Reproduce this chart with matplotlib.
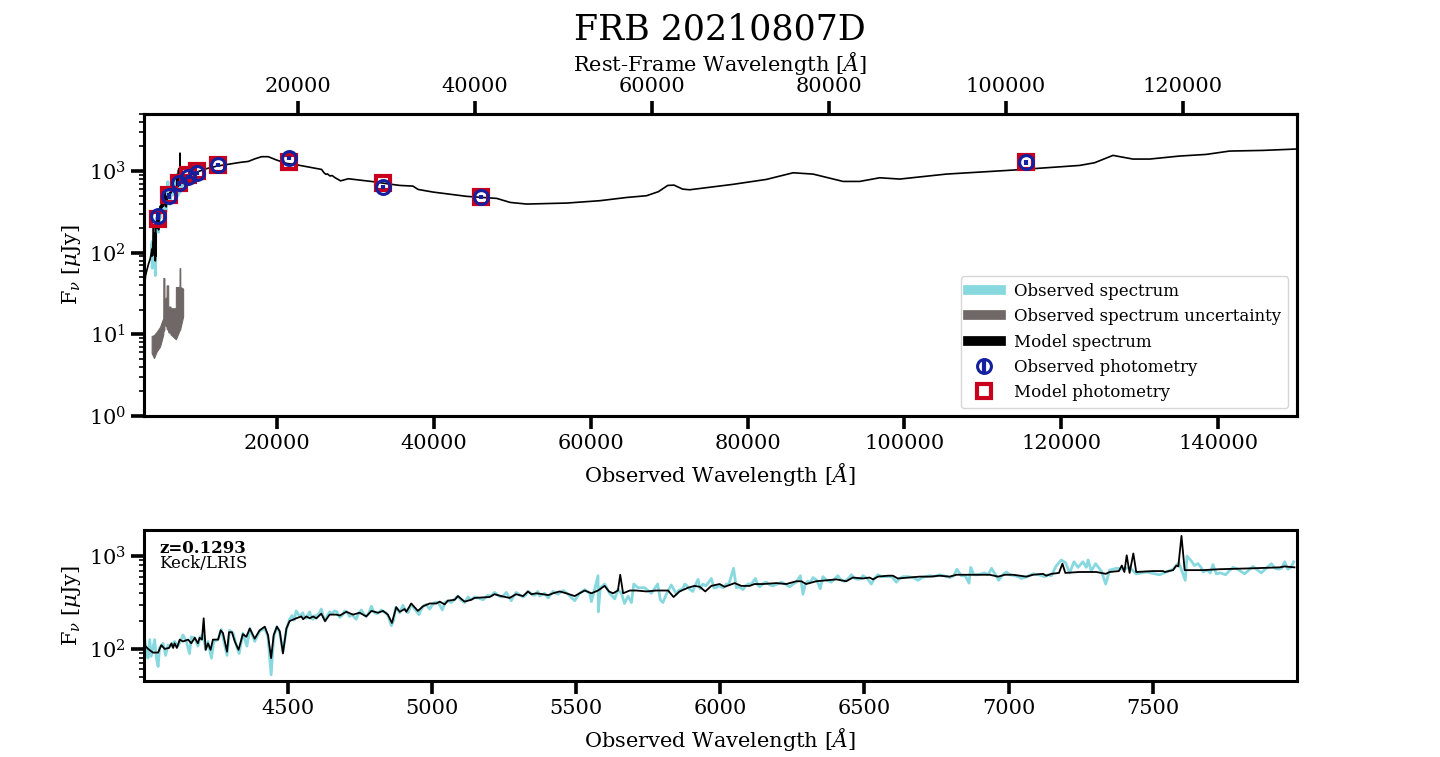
import matplotlib
matplotlib.use('Agg')
import matplotlib.pyplot as plt
import numpy as np
from matplotlib.legend_handler import HandlerErrorbar
from matplotlib.container import ErrorbarContainer
from matplotlib.ticker import NullFormatter, LogLocator

plt.rcParams['font.family'] = 'DejaVu Serif'
plt.rcParams['mathtext.fontset'] = 'dejavuserif'

z = 0.1293

# fluxes are log10(uJy)
model_blue_wave = [3000, 3100, 3200, 3400, 3600, 3800, 3900]
model_blue_logf = [1.50, 1.62, 1.72, 1.80, 1.87, 1.93, 1.98]

model_wave = [4003, 4015, 4032, 4050, 4061, 4073, 4088, 4096, 4102, 4107, 4115, 4125, 4136, 4154, 4165, 4177, 4188, 4194, 4202, 4208,
              4215, 4223, 4232, 4240, 4258, 4267, 4275, 4289, 4296, 4306, 4316, 4329, 4344, 4356, 4368, 4385, 4402, 4420, 4431, 4442,
              4451, 4462, 4472, 4483, 4495, 4506, 4529, 4547, 4553, 4564, 4576, 4587, 4599, 4616, 4629, 4645, 4668, 4680, 4703, 4726,
              4749, 4772, 4790, 4813, 4830, 4847, 4861, 4876, 4888, 4905, 4911, 4928, 4951, 4969, 4992, 5015, 5027, 5044, 5055, 5079,
              5090, 5113, 5136, 5148, 5200, 5217, 5240, 5269, 5292, 5316, 5333, 5345, 5362, 5385, 5403, 5420, 5443, 5466, 5495, 5512,
              5530, 5553, 5576, 5599, 5614, 5628, 5645, 5653, 5663, 5686, 5709, 5744, 5778, 5819, 5838, 5859, 5888, 5911, 5929, 5948,
              5969, 5998, 6015, 6050, 6073, 6102, 6119, 6148, 6194, 6229, 6264, 6281, 6298, 6333, 6368, 6403, 6437, 6460, 6495, 6518,
              6530, 6547, 6582, 6599, 6616, 6692, 6727, 6761, 6796, 6819, 6865, 6935, 6964, 6987, 7016, 7062, 7085, 7120, 7131, 7149,
              7175, 7187, 7197, 7247, 7305, 7337, 7351, 7383, 7393, 7402, 7410, 7420, 7433, 7443, 7501, 7536, 7542, 7571, 7582, 7589,
              7600, 7611, 7675, 7732, 7848, 7940, 7958, 7992]
model_logf = [2.04, 2.00, 1.96, 1.96, 2.04, 2.00, 2.01, 2.06, 2.01, 2.06, 2.01, 2.10, 2.08, 2.10, 2.06, 2.12, 2.06, 2.12, 2.10, 2.33,
              1.99, 2.06, 1.99, 2.10, 2.10, 2.20, 2.17, 1.97, 2.18, 2.18, 2.08, 1.99, 2.16, 2.13, 2.22, 2.11, 2.20, 2.24, 2.15, 1.90,
              2.15, 2.24, 2.19, 1.95, 2.22, 2.30, 2.33, 2.35, 2.32, 2.35, 2.33, 2.35, 2.33, 2.38, 2.30, 2.37, 2.37, 2.36, 2.40, 2.37,
              2.39, 2.35, 2.41, 2.39, 2.41, 2.37, 2.28, 2.45, 2.40, 2.43, 2.40, 2.49, 2.41, 2.46, 2.49, 2.49, 2.51, 2.48, 2.52, 2.53,
              2.57, 2.51, 2.53, 2.55, 2.56, 2.59, 2.57, 2.55, 2.59, 2.57, 2.62, 2.59, 2.60, 2.59, 2.58, 2.60, 2.62, 2.60, 2.57, 2.60,
              2.63, 2.60, 2.63, 2.68, 2.62, 2.60, 2.63, 2.80, 2.60, 2.63, 2.63, 2.62, 2.63, 2.63, 2.56, 2.62, 2.66, 2.68, 2.67, 2.62,
              2.68, 2.70, 2.67, 2.71, 2.68, 2.68, 2.70, 2.70, 2.71, 2.70, 2.73, 2.73, 2.70, 2.73, 2.74, 2.75, 2.73, 2.77, 2.76, 2.77,
              2.75, 2.78, 2.79, 2.79, 2.76, 2.78, 2.78, 2.79, 2.78, 2.80, 2.80, 2.80, 2.78, 2.80, 2.80, 2.78, 2.80, 2.81, 2.79, 2.81,
              2.82, 2.92, 2.82, 2.83, 2.83, 2.81, 2.83, 2.84, 2.90, 2.83, 3.01, 2.82, 3.03, 2.83, 2.84, 2.84, 2.83, 2.85, 2.90, 2.89,
              3.22, 2.85, 2.85, 2.86, 2.87, 2.88, 2.89, 2.88]

model_red_wave = [8500, 9500, 10990, 12265, 15240, 16300, 17150, 18000, 18850, 19915, 21190, 22680, 25650, 25950, 26200, 26400, 26715, 27000,
                  27350, 28075, 29050, 32240, 34365, 35640, 37300, 37960, 39850, 44180, 48000, 49700, 51800, 56900, 61140, 64600,
                  67100, 68600, 69800, 70600, 71700, 72600, 78100, 82400, 84090, 85790, 88340, 92165, 94290, 96840, 99390, 105340,
                  113840, 122340, 124250, 126590, 129140, 131265, 135090, 138490, 141465, 145715, 150000]
model_red_logf = [2.93, 2.98, 3.03, 3.06, 3.106, 3.118, 3.15, 3.176, 3.176, 3.135, 3.094, 3.073, 3.02, 2.98, 2.96, 2.965, 2.94, 2.945,
                  2.92, 2.88, 2.906, 2.87, 2.84, 2.824, 2.816, 2.775, 2.743, 2.69, 2.665, 2.616, 2.596, 2.608, 2.637, 2.677,
                  2.698, 2.747, 2.824, 2.828, 2.779, 2.771, 2.837, 2.898, 2.938, 2.979, 2.963, 2.873, 2.873, 2.918, 2.902, 2.963,
                  3.012, 3.069, 3.102, 3.192, 3.147, 3.147, 3.184, 3.204, 3.245, 3.253, 3.27]

obs_wave = [4003, 4009, 4015, 4021, 4026, 4038, 4044, 4050, 4055, 4067, 4076, 4084, 4096, 4107, 4119, 4130, 4136, 4148, 4159, 4165,
            4177, 4188, 4196, 4206, 4215, 4223, 4235, 4243, 4258, 4269, 4281, 4289, 4298, 4310, 4321, 4331, 4344, 4358, 4368, 4385,
            4402, 4420, 4431, 4442, 4451, 4462, 4472, 4483, 4495, 4506, 4529, 4541, 4552, 4564, 4576, 4587, 4604, 4616, 4629, 4645,
            4662, 4680, 4697, 4714, 4737, 4755, 4772, 4790, 4807, 4824, 4841, 4859, 4874, 4888, 4899, 4917, 4928, 4955, 4969, 4992,
            5009, 5036, 5055, 5079, 5090, 5113, 5125, 5148, 5177, 5194, 5217, 5240, 5258, 5275, 5292, 5316, 5333, 5350, 5367, 5374,
            5391, 5403, 5420, 5437, 5455, 5472, 5495, 5512, 5530, 5547, 5553, 5564, 5576, 5577, 5584, 5599, 5616, 5634, 5645, 5657,
            5668, 5680, 5692, 5700, 5715, 5738, 5761, 5783, 5792, 5801, 5813, 5830, 5848, 5877, 5905, 5923, 5940, 5969, 5986, 6021,
            6046, 6056, 6079, 6096, 6122, 6137, 6160, 6183, 6212, 6241, 6264, 6278, 6287, 6304, 6322, 6347, 6356, 6385, 6408, 6431,
            6455, 6478, 6495, 6524, 6547, 6582, 6611, 6634, 6686, 6726, 6761, 6796, 6821, 6836, 6863, 6869, 6894, 6917, 6941, 6966,
            6993, 7021, 7045, 7085, 7125, 7149, 7164, 7183, 7198, 7212, 7227, 7241, 7258, 7270, 7276, 7287, 7302, 7322, 7337, 7351,
            7374, 7397, 7420, 7443, 7478, 7524, 7571, 7591, 7613, 7619, 7634, 7657, 7675, 7709, 7721, 7753, 7779, 7819, 7848, 7877,
            7912, 7935, 7958, 7969, 7989]
obs_logf = [2.12, 1.99, 1.90, 2.10, 1.92, 2.10, 1.90, 1.81, 2.01, 2.06, 1.93, 2.04, 2.03, 2.08, 2.03, 2.10, 2.15, 2.08, 1.95, 2.13,
            2.12, 2.03, 2.13, 2.15, 1.99, 2.08, 1.90, 2.08, 2.10, 2.21, 2.04, 1.93, 2.20, 2.17, 2.04, 1.95, 2.17, 2.03, 2.22, 2.08,
            2.19, 2.22, 2.13, 1.72, 2.13, 2.24, 2.17, 1.97, 2.21, 2.32, 2.41, 2.35, 2.39, 2.33, 2.40, 2.32, 2.37, 2.43, 2.30, 2.40,
            2.41, 2.34, 2.41, 2.35, 2.32, 2.42, 2.35, 2.46, 2.38, 2.42, 2.39, 2.25, 2.45, 2.39, 2.47, 2.39, 2.48, 2.37, 2.46, 2.43,
            2.50, 2.42, 2.52, 2.54, 2.57, 2.50, 2.56, 2.56, 2.53, 2.58, 2.61, 2.56, 2.61, 2.52, 2.61, 2.56, 2.62, 2.58, 2.62, 2.57,
            2.60, 2.55, 2.62, 2.59, 2.63, 2.59, 2.52, 2.60, 2.64, 2.60, 2.51, 2.64, 2.79, 2.40, 2.66, 2.70, 2.60, 2.54, 2.64, 2.60,
            2.49, 2.57, 2.50, 2.70, 2.66, 2.66, 2.60, 2.70, 2.53, 2.50, 2.59, 2.69, 2.59, 2.70, 2.62, 2.75, 2.70, 2.76, 2.66, 2.70,
            2.87, 2.66, 2.64, 2.70, 2.76, 2.67, 2.72, 2.68, 2.72, 2.67, 2.72, 2.79, 2.59, 2.73, 2.77, 2.65, 2.78, 2.72, 2.79, 2.73,
            2.80, 2.75, 2.79, 2.70, 2.80, 2.78, 2.72, 2.78, 2.74, 2.79, 2.80, 2.77, 2.86, 2.79, 2.71, 2.88, 2.80, 2.82, 2.87, 2.74,
            2.83, 2.79, 2.76, 2.81, 2.78, 2.79, 2.89, 2.96, 2.93, 2.82, 2.94, 2.88, 2.94, 2.88, 2.96, 2.84, 2.92, 2.84, 2.70, 2.85,
            2.87, 2.86, 2.88, 2.81, 2.83, 2.80, 2.86, 2.93, 2.74, 3.00, 2.95, 2.92, 2.83, 2.91, 2.81, 2.80, 2.88, 2.81, 2.89, 2.82,
            2.92, 2.86, 2.94, 2.86, 2.94]

# second reading of the observed band, merged with the one above
obs_more_wave = [4515, 4522, 4535, 4558, 4570, 4581, 4593, 4598, 4610, 4622, 4637, 4652, 4670, 4688, 4705, 4722, 4745, 4762, 4780, 4798,
                 4815, 4832, 4850, 4866, 4880, 4908, 4940, 4962, 4980, 5000, 5022, 5045, 5067, 5100, 5135, 5160, 5185, 5205, 5228, 5250,
                 5283, 5305, 5325, 5342, 5358, 5855, 5870, 5885, 5895, 5912, 5930, 5950, 5960, 5978, 5995, 6010, 6030, 6065, 6088, 6108,
                 6130, 6150, 6172, 6198, 6225, 6253, 6295, 6312, 6335, 6370, 6395, 6420, 6445, 6466, 6488, 6510, 6535, 6560, 6595, 6622,
                 6650, 6670, 6700, 6740, 6775, 6810, 6850, 6880, 6905, 6930, 6955, 6980, 7005, 7033, 7065, 7105, 7137, 7645, 7668, 7690,
                 7700, 7735, 7765, 7795, 7830, 7860, 7890, 7925, 7947, 7980]
obs_more_logf = [2.36, 2.31, 2.38, 2.34, 2.37, 2.33, 2.36, 2.33, 2.39, 2.36, 2.36, 2.38, 2.40, 2.36, 2.40, 2.37, 2.38, 2.38, 2.38, 2.40,
                 2.39, 2.40, 2.34, 2.30, 2.43, 2.42, 2.43, 2.42, 2.48, 2.47, 2.50, 2.50, 2.50, 2.53, 2.53, 2.55, 2.55, 2.57, 2.58, 2.58,
                 2.57, 2.58, 2.58, 2.60, 2.58, 2.63, 2.65, 2.68, 2.64, 2.68, 2.65, 2.68, 2.72, 2.66, 2.68, 2.66, 2.70, 2.67, 2.68, 2.70,
                 2.69, 2.71, 2.69, 2.70, 2.70, 2.70, 2.70, 2.72, 2.74, 2.74, 2.75, 2.74, 2.76, 2.76, 2.76, 2.76, 2.76, 2.78, 2.78, 2.76,
                 2.78, 2.77, 2.77, 2.78, 2.79, 2.79, 2.79, 2.80, 2.81, 2.80, 2.80, 2.80, 2.80, 2.78, 2.78, 2.80, 2.80, 2.90, 2.88, 2.85,
                 2.82, 2.82, 2.84, 2.86, 2.84, 2.86, 2.86, 2.87, 2.87, 2.88]

unc_wave = [3977, 4275, 4615, 5040, 5380, 5460, 5470, 5600, 5610, 5880, 5890, 6080, 6090, 6380, 6390, 7060, 7070, 7530, 7540, 7620, 7630, 7990]
unc_high = [0.98, 0.99, 1.03, 1.09, 1.18, 1.18, 1.69, 1.69, 1.42, 1.46, 1.60, 1.60, 1.34, 1.34, 1.32, 1.32, 1.58, 1.58, 1.81, 1.81, 1.58, 1.56]
unc_low = [0.77, 0.71, 0.79, 0.85, 0.97, 1.00, 1.03, 1.06, 1.13, 1.09, 1.07, 1.05, 1.03, 1.01, 1.00, 0.94, 0.94, 1.05, 1.05, 1.06, 1.07, 1.22]

phot_wave = [4743, 6230, 7505, 8650, 9715, 12480, 21490, 33515, 46000, 115450]
phot_obs = [282, 494, 708, 851, 955, 1186, 1429, 631, 480, 1290]
phot_err = [30, 45, 50, 50, 50, 60, 80, 35, 25, 90]
phot_model = [261, 513, 720, 890, 1000, 1197, 1300, 720, 480, 1290]

xticks_top = [20000, 40000, 60000, 80000, 100000, 120000, 140000]
xticks_rest = [20000, 40000, 60000, 80000, 100000, 120000]
xticks_low = [4500, 5000, 5500, 6000, 6500, 7000, 7500]

cyan = '#88d8e0'
grey = '#706866'
blue = '#1420a0'
red = '#c8001e'

model_all_wave = model_blue_wave + model_wave + model_red_wave
model_all_logf = model_blue_logf + model_logf + model_red_logf

obs_all_wave = np.array(obs_wave + obs_more_wave)
obs_all_logf = np.array(obs_logf + obs_more_logf)
idx = np.argsort(obs_all_wave)
obs_all_wave = obs_all_wave[idx]
obs_all_flux = 10 ** obs_all_logf[idx]

fig = plt.figure(figsize=(14.4, 7.57), dpi=100)
ax1 = fig.add_axes([144 / 1440, 1 - 416 / 757, 1152.5 / 1440, 302 / 757])
ax2 = fig.add_axes([144 / 1440, 1 - 681 / 757, 1152.5 / 1440, 151 / 757])

ax1.plot(obs_all_wave, obs_all_flux, color=cyan, lw=2, label='Observed spectrum')
ax1.fill_between(unc_wave, 10 ** np.array(unc_low), 10 ** np.array(unc_high), color=grey, lw=0.8)
ax1.plot([], [], color=grey, lw=2, label='Observed spectrum uncertainty')
ax1.plot(model_all_wave, 10 ** np.array(model_all_logf), color='k', lw=1.2, label='Model spectrum')
ax1.errorbar(phot_wave, phot_obs, yerr=phot_err, fmt='o', ms=10, mfc='none', mec=blue, mew=2.2, ecolor=blue,
             elinewidth=3, zorder=6, label='Observed photometry')
ax1.plot(phot_wave, phot_model, 's', ms=10, mfc='none', mec=red, mew=3, zorder=5, label='Model photometry')

ax1.set_yscale('log')
ax1.set_xlim(3000, 150000)
ax1.set_ylim(1, 5000)
ax1.set_xticks(xticks_top)
ax1.set_xlabel(r'Observed Wavelength [$\AA$]', fontsize=15, labelpad=5.5)
ax1.set_ylabel(r'F$_\nu$ [$\mu$Jy]', fontsize=15)

top = ax1.twiny()
top.set_xlim(3000 / (1 + z), 150000 / (1 + z))
top.set_xticks(xticks_rest)
top.set_xlabel(r'Rest-Frame Wavelength [$\AA$]', fontsize=15, labelpad=4.3)

handles, labels = ax1.get_legend_handles_labels()
order = [labels.index(s) for s in ['Observed spectrum', 'Observed spectrum uncertainty', 'Model spectrum',
                                   'Observed photometry', 'Model photometry']]
leg = ax1.legend([handles[i] for i in order], [labels[i] for i in order], fontsize=12, loc='lower right',
                 bbox_to_anchor=(0.9927, 0.0265), borderaxespad=0,
                 handler_map={ErrorbarContainer: HandlerErrorbar(yerr_size=0.4)})
for line in leg.get_lines()[:3]:
    line.set_linewidth(7)

ax2.plot(obs_all_wave, obs_all_flux, color=cyan, lw=2)
ax2.plot(model_wave, 10 ** np.array(model_logf), color='k', lw=1.3)
ax2.set_yscale('log')
ax2.set_xlim(4001, 7999)
ax2.set_ylim(45, 1920)
ax2.set_xticks(xticks_low)
ax2.set_xlabel(r'Observed Wavelength [$\AA$]', fontsize=15, labelpad=5.5)
ax2.set_ylabel(r'F$_\nu$ [$\mu$Jy]', fontsize=15)
ax2.text(0.013, 0.88, 'z=0.1293', transform=ax2.transAxes, fontsize=12, fontweight='bold', va='center')
ax2.text(0.013, 0.78, 'Keck/LRIS', transform=ax2.transAxes, fontsize=12, va='center')

for ax in [ax1, ax2, top]:
    for s in ax.spines.values():
        s.set_linewidth(2.2)
    ax.tick_params(which='major', length=9.5, width=2.6, labelsize=15)
    ax.tick_params(which='minor', length=3.5, width=1.2)
for ax in [ax1, ax2]:
    ax.yaxis.set_major_locator(LogLocator(base=10, numticks=10))
    ax.yaxis.set_minor_locator(LogLocator(base=10, subs=np.arange(2, 10), numticks=10))
    ax.yaxis.set_minor_formatter(NullFormatter())

ax1.set_ylim(1, 5000)
ax2.set_ylim(45, 1920)

fig.text(0.5, 1 - 30 / 757, 'FRB 20210807D', fontsize=25, ha='center', va='center')

plt.savefig('out.png', dpi=100)
